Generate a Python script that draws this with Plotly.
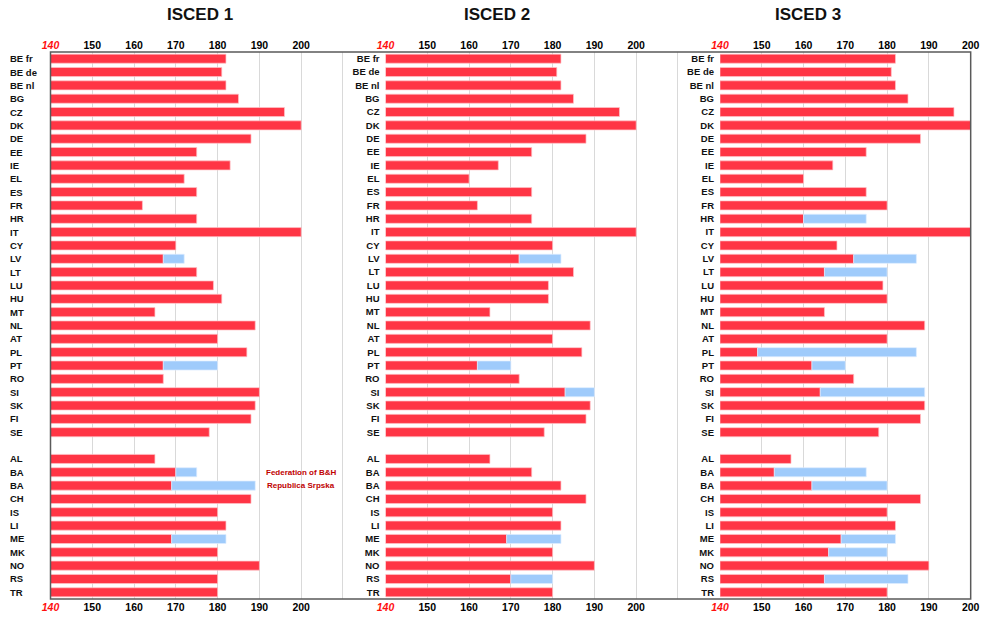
import plotly.graph_objects as go

# ---------------- data ----------------
labels = ["BE fr", "BE de", "BE nl", "BG", "CZ", "DK", "DE", "EE", "IE", "EL",
          "ES", "FR", "HR", "IT", "CY", "LV", "LT", "LU", "HU", "MT",
          "NL", "AT", "PL", "PT", "RO", "SI", "SK", "FI", "SE", "",
          "AL", "BA", "BA", "CH", "IS", "LI", "ME", "MK", "NO", "RS", "TR"]

N = None
# minimum (red) and maximum (blue end) values per ISCED level
isced1_min = [182, 181, 182, 185, 196, 200, 188, 175, 183, 172,
              175, 162, 175, 200, 170, 167, 175, 179, 181, 165,
              189, 180, 187, 167, 167, 190, 189, 188, 178, N,
              165, 170, 169, 188, 180, 182, 169, 180, 190, 180, 180]
isced1_max = [N, N, N, N, N, N, N, N, N, N,
              N, N, N, N, N, 172, N, N, N, N,
              N, N, N, 180, N, N, N, N, N, N,
              N, 175, 189, N, N, N, 182, N, N, N, N]

isced2_min = [182, 181, 182, 185, 196, 200, 188, 175, 167, 160,
              175, 162, 175, 200, 180, 172, 185, 179, 179, 165,
              189, 180, 187, 162, 172, 183, 189, 188, 178, N,
              165, 175, 182, 188, 180, 182, 169, 180, 190, 170, 180]
isced2_max = [N, N, N, N, N, N, N, N, N, N,
              N, N, N, N, N, 182, N, N, N, N,
              N, N, N, 170, N, 190, N, N, N, N,
              N, N, N, N, N, N, 182, N, N, 180, N]

isced3_min = [182, 181, 182, 185, 196, 200, 188, 175, 167, 160,
              175, 180, 160, 200, 168, 172, 165, 179, 180, 165,
              189, 180, 149, 162, 172, 164, 189, 188, 178, N,
              157, 153, 162, 188, 180, 182, 169, 166, 190, 165, 180]
isced3_max = [N, N, N, N, N, N, N, N, N, N,
              N, N, 175, N, N, 187, 180, N, N, N,
              N, N, 187, 170, N, 189, N, N, N, N,
              N, 175, 180, N, N, N, 182, 180, N, 185, N]

titles = ["ISCED 1", "ISCED 2", "ISCED 3"]
tick_values = [140, 150, 160, 170, 180, 190, 200]
base_value = 140
notes = ["Federation of B&H", "Republica Srpska"]
note_rows = [31, 32]

# ---------------- styling / layout ----------------
W, H = 983, 618
RED = "#ff3545"
BLUE = "#9fcbfb"
FRAME = "#5a5a5a"
GRID = "#d9d9d9"
FONT = "Arial, Liberation Sans, sans-serif"

px_per_unit = 4.178
panels_px = [(50.5, 212), (385.5, 212), (720.0, 200)]
title_px = [200, 497, 808]
y_top_px, y_bot_px = 52, 599
ydom = [1 - y_bot_px / H, 1 - y_top_px / H]

rows = list(range(len(labels)))

fig = go.Figure()
series = [(isced1_min, isced1_max), (isced2_min, isced2_max), (isced3_min, isced3_max)]

for p, (mins, maxs) in enumerate(series):
    n = p + 1
    xa = "x" if n == 1 else f"x{n}"
    xtop = f"x{n + 3}"
    ya = "y" if n == 1 else f"y{n}"
    red_len = [None if v is None else v - base_value for v in mins]
    fig.add_trace(go.Bar(
        y=rows, x=red_len, base=base_value, orientation="h", xaxis=xa, yaxis=ya,
        marker=dict(color=RED, line=dict(color="#ffc4c9", width=0.7)),
        width=0.68, showlegend=False, hoverinfo="skip"))
    blue_len = [None if (m is None or b is None) else b - m for m, b in zip(mins, maxs)]
    blue_base = [m if m is not None else base_value for m in mins]
    fig.add_trace(go.Bar(
        y=rows, x=blue_len, base=blue_base, orientation="h", xaxis=xtop, yaxis=ya,
        marker=dict(color=BLUE, line=dict(color="#dcecff", width=0.7)),
        width=0.68, showlegend=False, hoverinfo="skip"))

layout = dict(width=W, height=H, margin=dict(l=0, r=0, t=0, b=0, autoexpand=False),
              plot_bgcolor="white", paper_bgcolor="white", barmode="overlay",
              font=dict(family=FONT, color="black"))

shapes = []
annotations = []
for p, (x0px, xmax) in enumerate(panels_px):
    x1px = x0px + (xmax - base_value) * px_per_unit
    dom = [x0px / W, x1px / W]
    grid_vals = list(range(140, xmax + 1, 10))
    ttext = ['<span style="color:#ff1010"><i>140</i></span>'] + \
            [str(v) if v in tick_values else "" for v in grid_vals[1:]]
    common = dict(domain=dom, range=[base_value, xmax], tickmode="array",
                  tickvals=grid_vals, ticktext=ttext, ticks="", zeroline=False,
                  automargin=False, ticklabeloverflow="allow",
                  tickfont=dict(size=10.5, weight="bold", color="black", family=FONT),
                  fixedrange=True)
    n = p + 1
    xb = "xaxis" if n == 1 else f"xaxis{n}"
    ya_name = "y" if n == 1 else f"y{n}"
    layout[xb] = dict(**common, anchor=ya_name, side="bottom", showgrid=True,
                      gridcolor=GRID, gridwidth=1, showline=False)
    xt_name = f"xaxis{n + 3}"
    layout[xt_name] = dict(**common, anchor=ya_name, side="top", showgrid=False,
                           overlaying=("x" if n == 1 else f"x{n}"), showline=False)
    yname = "yaxis" if n == 1 else f"yaxis{n}"
    layout[yname] = dict(domain=ydom, range=[len(labels) - 0.5, -0.5],
                         anchor=("x" if n == 1 else f"x{n}"),
                         tickmode="array", tickvals=rows,
                         ticktext=labels if n > 1 else [""] * len(labels),
                         showticklabels=(n > 1), ticks="", showgrid=False,
                         zeroline=False, showline=False, ticklabelstandoff=5,
                         automargin=False,
                         tickfont=dict(size=9.5, weight="bold", color="#111", family=FONT),
                         fixedrange=True)
    annotations.append(dict(text=f"<b>{titles[p]}</b>", xref="paper", yref="paper",
                            x=title_px[p] / W, y=1 - 15 / H, showarrow=False,
                            xanchor="center", yanchor="middle",
                            font=dict(size=17, color="#111", family=FONT)))

# panel-1 row labels (left aligned)
for r, lab in zip(rows, labels):
    if lab:
        annotations.append(dict(text=lab, xref="paper", yref="y", x=8 / W, y=r,
                                xanchor="left", yanchor="middle", showarrow=False,
                                font=dict(size=9.5, weight="bold", color="#111", family=FONT)))

# notes for BA rows
for txt, r in zip(notes, note_rows):
    annotations.append(dict(text=txt, xref="x", yref="y", x=200, y=r, xanchor="center",
                            yanchor="middle", showarrow=False,
                            font=dict(size=8, weight="bold", color="#c00000", family=FONT)))

# outer frame
x_left = panels_px[0][0] / W
x_right = (panels_px[2][0] + (panels_px[2][1] - base_value) * px_per_unit) / W
shapes.append(dict(type="rect", xref="paper", yref="paper", x0=x_left, x1=x_right,
                   y0=ydom[0], y1=ydom[1], line=dict(color=FRAME, width=1.5), layer="above"))

layout["shapes"] = shapes
layout["annotations"] = annotations
fig.update_layout(**layout)

fig.write_html("out.html", config={"displayModeBar": False},
               post_script="document.body.style.margin='0';document.body.style.overflow='hidden';")
